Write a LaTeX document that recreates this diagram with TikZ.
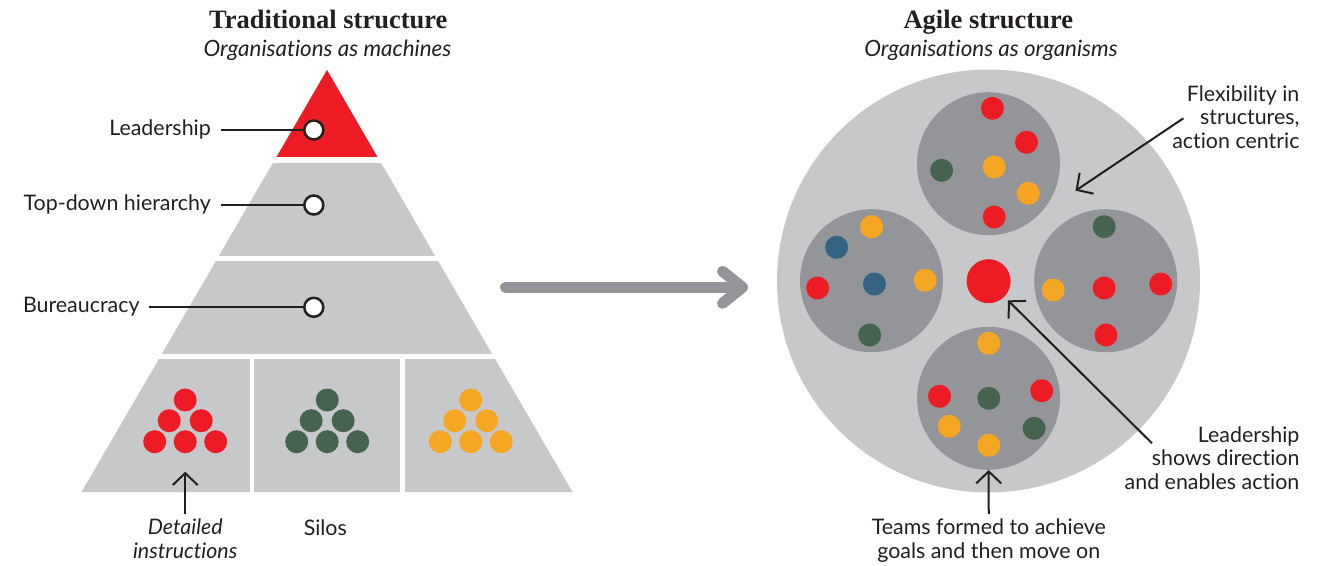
\documentclass[tikz,border=0pt]{standalone}
\usepackage{fontspec}
\setmainfont{Lato}[Ligatures=NoCommon]
\newfontfamily\headfont{Liberation Serif}
\usepackage{xcolor}
\usetikzlibrary{positioning,arrows.meta}
\definecolor{inkdark}{HTML}{231F20}
\definecolor{hotred}{HTML}{ED1C24}
\definecolor{palegrey}{HTML}{C7C8CA}
\definecolor{midgrey}{HTML}{939598}
\definecolor{pine}{HTML}{45634F}
\definecolor{amber}{HTML}{F5A623}
\definecolor{slateblue}{HTML}{336482}
\newcommand{\bodysize}{\fontsize{21.4}{23.5}\selectfont}

\begin{document}
\begin{tikzpicture}[x=1pt, y=-1pt, font=\bodysize, text=inkdark,
  note/.style={inner sep=0pt, align=right},
  ring/.style={circle, draw=inkdark, line width=2.5pt, fill=white, minimum size=19pt, inner sep=0pt},
  tie/.style={draw=inkdark, line width=2pt},
  pointer/.style={draw=inkdark, line width=2pt, -{Straight Barb[length=12pt, width=25pt]}},
  bigarrow/.style={draw=midgrey, line width=11pt, line cap=round, -{Straight Barb[round, length=20pt, width=32pt]}},
  team/.style={circle, fill=midgrey, minimum size=143pt, inner sep=0pt},
  heading/.style={font=\headfont\bfseries\fontsize{26.5}{28}\selectfont},
  subheading/.style={font=\fontsize{22.4}{24}\selectfont\itshape}]
\useasboundingbox (0,0) rectangle (1324,565);

% titles
\node[heading, anchor=base] (tradtitle) at (328.3,28.3) {Traditional structure};
\node[subheading, anchor=base] (tradsub) at (327.5,56.7) {Organisations as machines};
\node[heading, anchor=base] (agiletitle) at (988.3,28.3) {Agile structure};
\node[subheading, anchor=base] (agilesub) at (991,56.7) {Organisations as organisms};

% pyramid with red tip
\fill[palegrey] (327,70) -- (81.5,492) -- (572.5,492) -- cycle;
\fill[hotred] (327,70) -- (275,159.7) -- (379,159.7) -- cycle;
% white gaps between the layers and silos
\fill[white] (60,156.7) rectangle (600,162.7);
\fill[white] (60,255.7) rectangle (600,261);
\fill[white] (60,354) rectangle (600,359.3);
\fill[white] (249.5,356) rectangle (254.1,495);
\fill[white] (400.3,356) rectangle (404.9,495);

% silo dots
\foreach \cx/\col in {185.2/hotred, 327.2/pine, 470.7/amber}
  \foreach \dx/\dy in {0/400, -16/420.7, 16/420.7, -30.5/441.7, 0/441.7, 30.5/441.7}
    \fill[\col] (\cx+\dx,\dy) circle[radius=11.5];

% layer labels
\node[ring] (leadring) at (313.8,130) {};
\node[ring] (topring) at (313.8,205) {};
\node[ring] (bureauring) at (313.8,307.3) {};
\node[note, anchor=base east] (leadlabel) at (211,135) {Leadership};
\node[note, anchor=base east] (toplabel) at (211,210) {Top-down hierarchy};
\node[note, anchor=base east] (bureaulabel) at (139.7,312.3) {Bureaucracy};
\draw[tie, shorten <=9.8pt] (leadlabel.east |- leadring) -- (leadring);
\draw[tie, shorten <=9.8pt] (toplabel.east |- topring) -- (topring);
\draw[tie, shorten <=8.8pt] (bureaulabel.east |- bureauring) -- (bureauring);

\node[note, align=center, anchor=base, inner sep=5pt, font=\bodysize\itshape] (detailnote) at (185.2,558.3) {Detailed\\instructions};
\node[note, anchor=base] (silonote) at (325.3,535) {Silos};
\coordinate (detailtip) at (185.2,471.7);
\draw[pointer] (detailnote) -- (detailtip);

% shift from one structure to the other
\coordinate (shiftfrom) at (505.5,287.3);
\coordinate (shiftto) at (748,287.3);
\draw[bigarrow] (shiftfrom) -- (shiftto);

% organism with four teams
\fill[palegrey] (988.5,281) circle[radius=211.5];
\node[team] (northteam) at (988.5,163.7) {};
\node[team] (westteam) at (871.5,280.7) {};
\node[team] (eastteam) at (1105.7,280.7) {};
\node[team] (southteam) at (988.5,398.3) {};
\node[circle, fill=hotred, minimum size=44pt, inner sep=0pt] (leaddot) at (988.6,281.2) {};

\foreach \px/\py/\col in {
  992.4/108.3/hotred, 1026.5/142.3/hotred, 941.7/170.3/pine, 994.2/167/amber, 1028.3/193.3/amber, 994.2/217/hotred,
  871.5/226.7/amber, 836.6/247.3/slateblue, 817.6/288/hotred, 874.4/284/slateblue, 925.1/280.3/amber, 869.7/335/pine,
  1104.2/226.7/pine, 1053.2/290/amber, 1104.2/288/hotred, 1160.7/284/hotred, 1106/335/hotred,
  988.8/343.3/amber, 939.5/396.3/hotred, 988.8/398.3/pine, 1041.7/390.7/hotred, 949.2/426.3/amber, 1034.1/428.3/pine, 988.8/445.3/amber}
  \fill[\col] (\px,\py) circle[radius=11.5];

% notes on the right
\node[note, anchor=base east] (flexnote) at (1299.6,148.3) {Flexibility in\\structures,\\action centric};
\node[note, anchor=base east] (leadnote) at (1299.6,489) {Leadership\\shows direction\\and enables action};
\node[note, align=center, anchor=base, inner sep=5pt] (teamsnote) at (988.8,558.3) {Teams formed to achieve\\goals and then move on};
\coordinate (flextail) at (1183.4,118.3);
\coordinate (flextip) at (1075.5,190.7);
\coordinate (leadtail) at (1152,443.3);
\draw[pointer] (flextail) -- (flextip);
\draw[pointer, shorten >=5pt] (leadtail) -- (leaddot);
\draw[pointer] (teamsnote) -- (southteam);
\end{tikzpicture}
\end{document}
